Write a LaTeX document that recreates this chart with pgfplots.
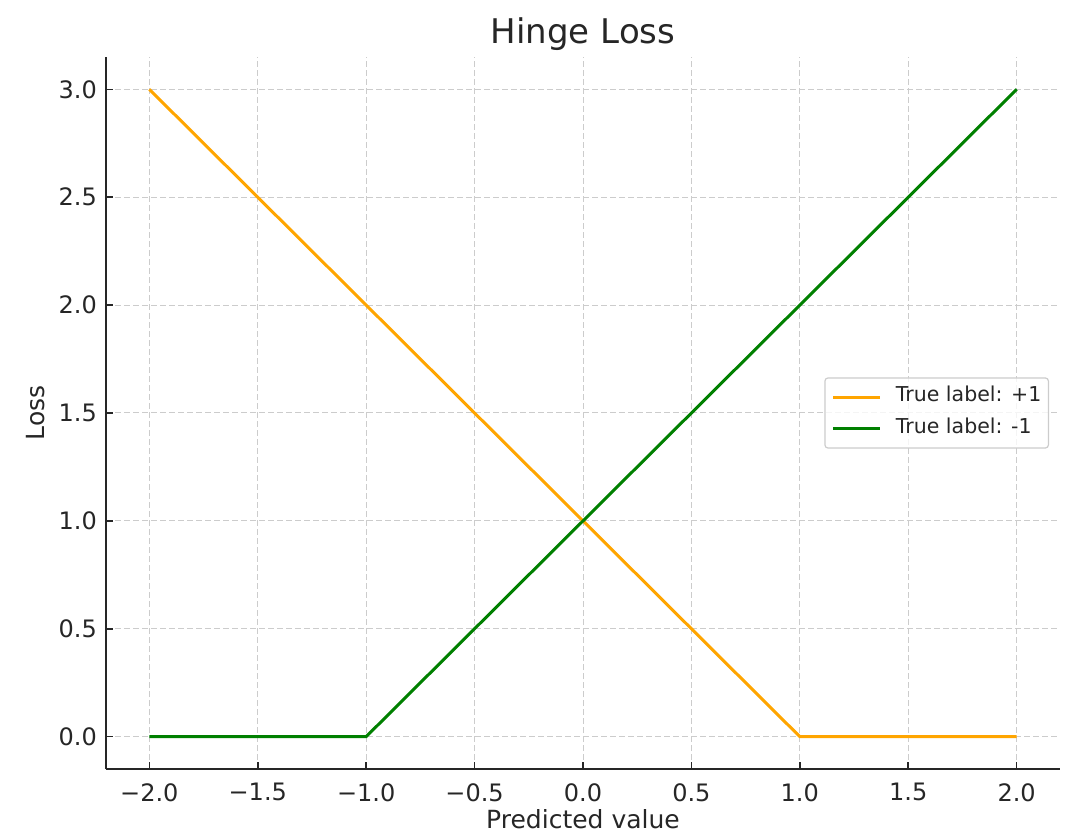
\documentclass[border=0pt]{standalone}
\usepackage{fontspec}
\setmainfont{DejaVu Sans}
\usepackage{pgfplots}
\pgfplotsset{compat=1.18}
\definecolor{lorange}{HTML}{FFA500}
\definecolor{lgreen}{HTML}{008000}
\definecolor{txt}{HTML}{262626}
\definecolor{gridc}{HTML}{CCCCCC}
\begin{document}
\begin{tikzpicture}
\useasboundingbox (0,0) rectangle (1066pt,828pt);
\clip (0,0) rectangle (1066pt,828pt);
\begin{axis}[
  at={(106pt,59pt)}, anchor=south west,
  scale only axis, width=954pt, height=712pt,
  xmin=-2.2, xmax=2.2, ymin=-0.15, ymax=3.15,
  axis x line=bottom, axis y line=left,
  axis line style={-, line width=2pt, color=txt},
  tick align=inside,
  major tick length=7pt,
  tick style={line width=1.5pt, color=txt},
  xtick={-2,-1.5,-1,-0.5,0,0.5,1,1.5,2},
  xticklabels={−2.0,−1.5,−1.0,−0.5,0.0,0.5,1.0,1.5,2.0},
  ytick={0,0.5,1,1.5,2,2.5,3},
  yticklabels={0.0,0.5,1.0,1.5,2.0,2.5,3.0},
  /pgf/number format/assume math mode=true,
  ticklabel style={font=\fontsize{24}{28}\selectfont, text=txt, inner sep=0pt},
  xticklabel style={anchor=north, yshift=-14pt},
  yticklabel style={anchor=east, xshift=-9pt},
  grid=major,
  major grid style={gridc, line width=1pt, dash pattern=on 6pt off 3pt},
  title={Hinge Loss},
  title style={at={(0.5,1)}, anchor=base, yshift=7pt, inner sep=0pt, font=\fontsize{34}{40}\selectfont, text=txt},
  xlabel={Predicted value},
  xlabel style={at={(0.5,0)}, anchor=north, yshift=-40pt, inner sep=0pt, font=\fontsize{25}{30}\selectfont, text=txt},
  ylabel={Loss},
  ylabel style={at={(0,0.5)}, anchor=center, yshift=70pt, inner sep=0pt, font=\fontsize{25}{30}\selectfont, text=txt},
  legend image code/.code={\draw[#1, line width=3pt] (0pt,0pt) -- (47pt,0pt);},
  legend cell align=left,
  legend style={at={(1,0.5)}, anchor=east, xshift=-11pt,
    draw=gridc, line width=1.2pt, rounded corners=3pt, fill=white, fill opacity=0.8, text opacity=1,
    font=\fontsize{20.5}{24}\selectfont, text=txt,
    inner xsep=7pt, inner ysep=9pt, row sep=12pt, column sep=14pt,
    nodes={inner sep=0pt, text height=15pt, text depth=5pt}},
]
\addplot[lorange, line width=3pt] coordinates {(-2,3) (-1,2) (0,1) (1,0) (2,0)};
\addlegendentry{True label: +1}
\addplot[lgreen, line width=3pt] coordinates {(-2,0) (-1,0) (0,1) (1,2) (2,3)};
\addlegendentry{True label: -1}
\end{axis}
\end{tikzpicture}
\end{document}
